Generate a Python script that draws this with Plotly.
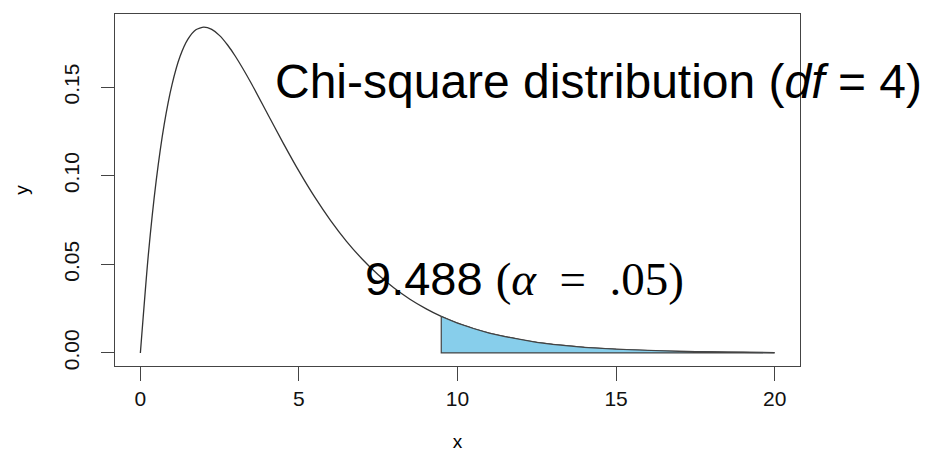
import plotly.graph_objects as go

# Chi-square (df = 4) density
x_vals = [0, 0.25, 0.5, 0.75, 1, 1.25, 1.5, 1.75, 2, 2.25, 2.5, 2.75, 3, 3.5, 4, 4.5, 5, 5.5, 6,
          6.5, 7, 7.5, 8, 8.5, 9, 9.488, 10, 10.5, 11, 11.5, 12, 12.5, 13, 13.5, 14, 15, 16,
          17, 18, 19, 20]
y_vals = [0.0, 0.0552, 0.0974, 0.1289, 0.1516, 0.1673, 0.1771, 0.1824, 0.1839, 0.1826, 0.1791,
          0.1738, 0.1673, 0.1521, 0.1353, 0.1186, 0.1026, 0.0879, 0.0747, 0.0630, 0.0529,
          0.0441, 0.0366, 0.0303, 0.0250, 0.0206, 0.0168, 0.0138, 0.0112, 0.0092, 0.0074,
          0.0060, 0.0049, 0.0040, 0.0032, 0.0021, 0.0013, 0.0009, 0.0006, 0.0004, 0.0002]
critical_value = 9.488
x_ticks = [0, 5, 10, 15, 20]
y_ticks = [0.00, 0.05, 0.10, 0.15]
y_tick_labels = ["0.00", "0.05", "0.10", "0.15"]
title_text = "Chi-square distribution (<i>df</i> = 4)"
crit_text = ("9.488 <span style='font-family:Liberation Serif, DejaVu Serif, serif'>"
             "(<i>α</i>&nbsp; =&nbsp; .05)</span>")

tail_x = [xv for xv in x_vals if xv >= critical_value]
tail_y = [yv for xv, yv in zip(x_vals, y_vals) if xv >= critical_value]
poly_x = tail_x + [tail_x[-1], tail_x[0], tail_x[0]]
poly_y = tail_y + [0, 0, tail_y[0]]

fig = go.Figure()
fig.add_trace(go.Scatter(x=x_vals, y=y_vals, mode="lines",
                         line=dict(color="#333333", width=1.3, shape="spline", smoothing=0.6),
                         hoverinfo="skip", showlegend=False))
fig.add_trace(go.Scatter(x=poly_x, y=poly_y, mode="lines", fill="toself",
                         fillcolor="#87CEEB", line=dict(color="#444444", width=1.2),
                         hoverinfo="skip", showlegend=False))

font_main = "Liberation Sans, Arial, sans-serif"
fig.update_layout(
    width=932, height=457,
    margin=dict(l=107, r=140, t=6, b=99),
    paper_bgcolor="white", plot_bgcolor="white",
    font=dict(family=font_main, color="black"),
    xaxis=dict(range=[-0.8, 20.8], tickvals=x_ticks, ticks="outside", ticklen=14,
               tickcolor="#444444", tickwidth=1,
               showgrid=False, zeroline=False, showline=True, linecolor="#444444",
               linewidth=1, mirror=True, tickfont=dict(size=21, color="#111111"),
               title=dict(text="x", font=dict(size=19), standoff=25)),
    yaxis=dict(range=[-0.00736, 0.1913], tickvals=y_ticks, ticktext=y_tick_labels,
               ticks="outside", ticklen=13, tickcolor="#444444", tickwidth=1,
               tickangle=-90, ticklabelstandoff=14,
               showgrid=False, zeroline=False, showline=True, linecolor="#444444",
               linewidth=1, mirror=True, tickfont=dict(size=21, color="#111111"),
               title=dict(text="y", font=dict(size=19), standoff=25)),
    annotations=[
        dict(text=title_text, xref="paper", yref="paper", x=0.2307, y=0.807,
             xanchor="left", yanchor="middle", showarrow=False,
             font=dict(size=48, family=font_main, color="black")),
        dict(text=crit_text, xref="paper", yref="paper", x=0.362, y=0.25,
             xanchor="left", yanchor="middle", showarrow=False,
             font=dict(size=47, family=font_main, color="black")),
    ],
)

fig.write_html("out.html")
